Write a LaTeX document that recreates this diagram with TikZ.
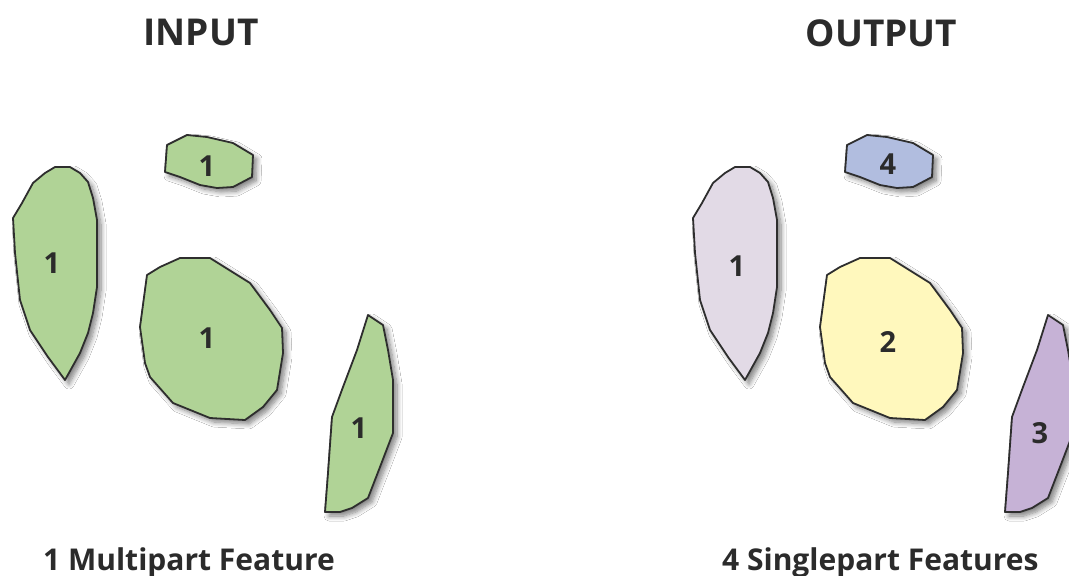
\documentclass[tikz,border=0pt]{standalone}
\usepackage{fontspec}
\setmainfont{Open Sans}
\usetikzlibrary{shadows.blur}
\definecolor{outline}{HTML}{2E2E2E}
\definecolor{txt}{HTML}{2B2B2B}
\definecolor{green}{HTML}{B0D396}
\definecolor{lav}{HTML}{E2DAE6}
\definecolor{yel}{HTML}{FFF8BD}
\definecolor{purp}{HTML}{C6B2D6}
\definecolor{blu}{HTML}{B1BDDF}
\begin{document}
\begin{tikzpicture}[x=1pt,y=-1pt,
  poly/.style={draw=outline, line width=1.8pt, line join=round,
    blur shadow={shadow xshift=4pt, shadow yshift=-4pt, shadow blur steps=8, shadow blur radius=5pt, shadow opacity=50}},
  num/.style={font=\bfseries\fontsize{29}{32}\selectfont, text=txt, inner sep=0pt},
  title/.style={font=\bfseries\fontsize{37}{40}\selectfont, text=txt, inner sep=0pt, anchor=base},
  caption/.style={font=\bfseries\fontsize{30}{34}\selectfont, text=txt, inner sep=0pt, anchor=base west}]
\useasboundingbox[fill=white] (0,0) rectangle (1069,576);
\newcommand\shapeA{(55,167) -- (70,167) -- (80,173) -- (88,182) -- (93,198) -- (97,220) -- (97,253) -- (97,287) -- (93,313) -- (88,333) -- (80,353) -- (65,380) -- (48,357) -- (30,330) -- (20,300) -- (15,253) -- (13,218) -- (22,203) -- (33,183) -- (45,173) -- cycle}
\newcommand\shapeB{(167,145) -- (187,135) -- (207,137) -- (233,143) -- (253,155) -- (252,177) -- (233,187) -- (217,188) -- (200,185) -- (180,177) -- (165,172) -- cycle}
\newcommand\shapeC{(180,258) -- (210,258) -- (250,283) -- (270,310) -- (282,328) -- (283,353) -- (277,390) -- (263,407) -- (245,420) -- (210,418) -- (173,403) -- (150,377) -- (145,363) -- (140,327) -- (147,275) -- (160,267) -- cycle}
\newcommand\shapeD{(368,315) -- (383,325) -- (388,350) -- (393,380) -- (393,433) -- (380,467) -- (368,498) -- (352,508) -- (340,512) -- (325,512) -- (328,473) -- (332,417) -- (343,387) -- (357,350) -- cycle}
% input
\draw[poly, fill=green] \shapeA;
\draw[poly, fill=green] \shapeB;
\draw[poly, fill=green] \shapeC;
\draw[poly, fill=green] \shapeD;
\node[num] (ia) at (52,263) {1};
\node[num] (ib) at (207,166) {1};
\node[num] (ic) at (207,338) {1};
\node[num] (id) at (359,428) {1};
% output
\begin{scope}[xshift=680pt]
\draw[poly, fill=lav] \shapeA;
\draw[poly, fill=blu] \shapeB;
\draw[poly, fill=yel] \shapeC;
\draw[poly, fill=purp] \shapeD;
\end{scope}
\node[num] (oa) at (737,266) {1};
\node[num] (ob) at (888,164) {4};
\node[num] (oc) at (888,342) {2};
\node[num] (od) at (1040,433) {3};
% titles
\node[title] (tin) at (201,45) {INPUT};
\node[title] (tout) at (881.5,46) {OUTPUT};
\node[caption] (cin) at (43,570) {1 Multipart Feature};
\node[caption] (cout) at (722,570) {4 Singlepart Features};
\end{tikzpicture}
\end{document}
